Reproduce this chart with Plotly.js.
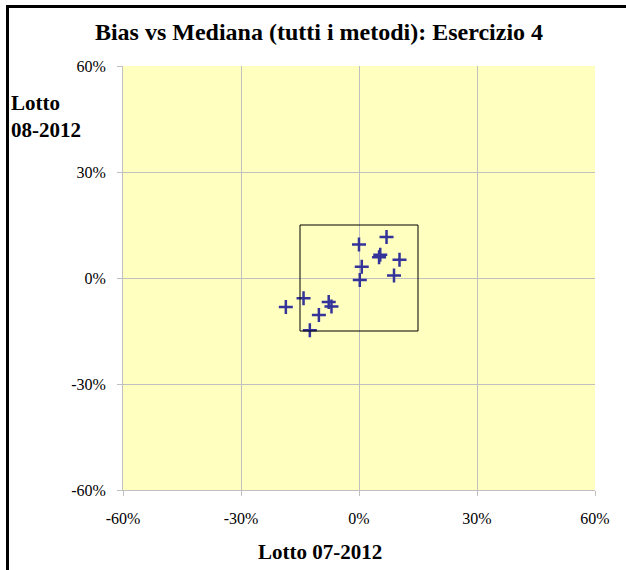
<!DOCTYPE html>
<html>
<head>
<meta charset="utf-8">
<script src="https://cdn.plot.ly/plotly-3.0.1.min.js"></script>
<style>
html,body{margin:0;padding:0;background:#fff;}
#wrap{position:relative;width:626px;height:570px;overflow:hidden;}
#chart{width:626px;height:570px;}
#frame{position:absolute;left:6px;top:5px;width:700px;height:700px;border-left:3px solid #000;border-top:3px solid #000;pointer-events:none;}
</style>
</head>
<body>
<div id="wrap"><div id="chart"></div><div id="frame"></div></div>
<script>
// Data (fractions)
const lotto0712 = [0.000, 0.070, 0.051, 0.054, 0.103, 0.007, 0.089, 0.002, -0.141, -0.186, -0.077, -0.070, -0.102, -0.125];
const lotto0812 = [0.095, 0.116, 0.059, 0.066, 0.052, 0.032, 0.007, -0.006, -0.057, -0.082, -0.068, -0.081, -0.105, -0.148];
const boxLimit = 0.15;
const tickVals = [-0.6, -0.3, 0, 0.3, 0.6];
const tickText = ['-60%', '-30%', '0%', '30%', '60%'];

const font = 'Liberation Serif, Times New Roman, serif';

const trace = {
  x: lotto0712, y: lotto0812, type: 'scatter', mode: 'markers',
  marker: {symbol: 'cross-thin', size: 10, color: '#333399', line: {color: '#333399', width: 2.5}},
  hoverinfo: 'skip', showlegend: false
};

const axisCommon = {
  range: [-0.6, 0.6], tickvals: tickVals, ticktext: tickText,
  showgrid: true, gridcolor: '#c0c0c0', gridwidth: 1,
  zeroline: false, showline: true, linecolor: '#c0c0c0', linewidth: 1,
  ticks: 'outside', ticklen: 5, tickcolor: '#c0c0c0',
  tickfont: {family: font, size: 16, color: '#000'},
  fixedrange: true
};

const layout = {
  width: 626, height: 570,
  margin: {l: 123, r: 31, t: 66, b: 80},
  paper_bgcolor: '#ffffff', plot_bgcolor: '#ffffc0',
  title: {text: '<b>Bias vs Mediana (tutti i metodi): Esercizio 4</b>', font: {family: font, size: 24, color: '#000'},
          x: 319/626, xanchor: 'center', y: 1 - 32/570, yanchor: 'middle'},
  xaxis: Object.assign({}, axisCommon, {ticklabelstandoff: 9}),
  yaxis: Object.assign({}, axisCommon, {ticklabelstandoff: 8}),
  shapes: [{type: 'rect', xref: 'x', yref: 'y', x0: -boxLimit, x1: boxLimit, y0: -boxLimit, y1: boxLimit,
            line: {color: '#000', width: 1}, fillcolor: 'rgba(0,0,0,0)'}],
  annotations: [
    {text: '<b>Lotto 07-2012</b>', xref: 'paper', yref: 'paper', x: (320-123)/472, y: -(552-490)/424,
     xanchor: 'center', yanchor: 'middle', showarrow: false, font: {family: font, size: 21, color: '#000'}},
    {text: '<b>Lotto<br>08-2012</b>', xref: 'paper', yref: 'paper', x: -(123-9)/472, y: (490-116)/424,
     xanchor: 'left', yanchor: 'middle', align: 'left', showarrow: false, font: {family: font, size: 21, color: '#000'}}
  ]
};

Plotly.newPlot('chart', [trace], layout, {staticPlot: true, displayModeBar: false});
</script>
</body>
</html>
